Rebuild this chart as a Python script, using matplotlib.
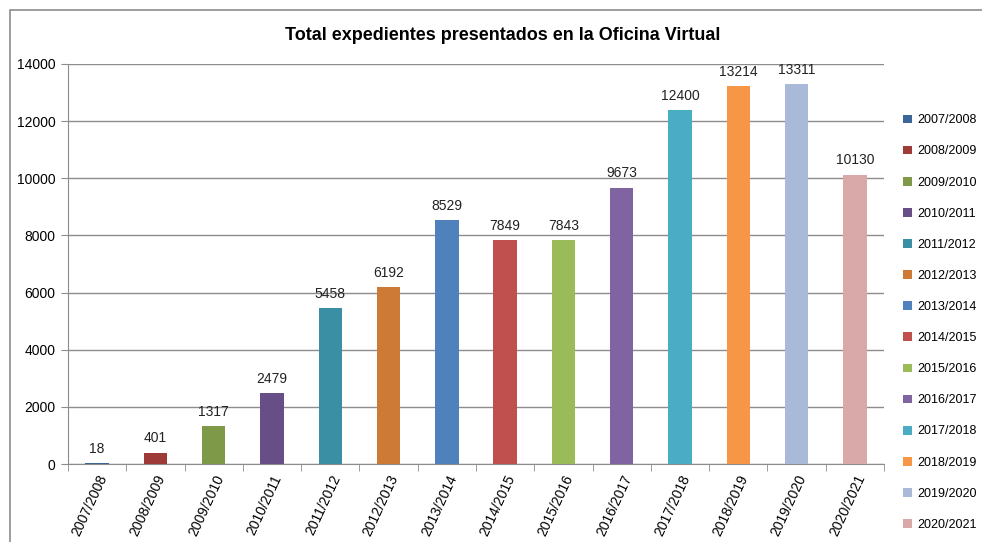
import numpy as np
import matplotlib.pyplot as plt
from matplotlib.patches import Rectangle

plt.rcParams['font.family'] = ['Liberation Sans', 'DejaVu Sans']

cursos = ['2007/2008', '2008/2009', '2009/2010', '2010/2011', '2011/2012', '2012/2013',
          '2013/2014', '2014/2015', '2015/2016', '2016/2017', '2017/2018', '2018/2019',
          '2019/2020', '2020/2021']
expedientes = [18, 401, 1317, 2479, 5458, 6192, 8529, 7849, 7843, 9673, 12400, 13214, 13311, 10130]
colores = ['#3C6696', '#9E3B38', '#7E9A48', '#674E87', '#3B8FA5', '#CC7A36',
           '#4F81BD', '#C0504D', '#9BBB59', '#8064A2', '#4BACC6', '#F79646',
           '#A9B9D8', '#D9A8A8']

fig = plt.figure(figsize=(9.82, 5.42), dpi=100)
# marco gris del grafico
fig.patches.append(Rectangle((10 / 982, -0.05), 1.0, 1 - 10 / 542 + 0.05,
                             transform=fig.transFigure, fill=False,
                             edgecolor='#8C8C8C', linewidth=1.2))

ax = fig.add_axes([68 / 982, 1 - 464 / 542, (884 - 68) / 982, 400 / 542])
x = np.arange(len(cursos))
bars = ax.bar(x, expedientes, width=0.4, color=colores, label=cursos, zorder=3)

for xi, v in zip(x, expedientes):
    ax.text(xi, v + 250, str(v), ha='center', va='bottom', fontsize=10, color='#222222')

ax.set_xlim(-0.5, len(cursos) - 0.5)
ax.set_ylim(0, 14000)
ax.set_yticks(range(0, 14001, 2000))
ax.yaxis.grid(True, color='#8C8C8C', linewidth=1)
ax.set_axisbelow(True)

ax.set_xticks(x)
ax.set_xticklabels(cursos, rotation=65, ha='right', rotation_mode='anchor', fontsize=10)
ax.set_xticks(np.arange(-0.5, len(cursos), 1), minor=True)
ax.tick_params(axis='x', which='major', length=0, pad=6)
ax.tick_params(axis='x', which='minor', length=5, color='#8C8C8C', direction='out')
ax.tick_params(axis='y', length=5, color='#8C8C8C', labelsize=10, pad=4)

for s in ['top', 'right']:
    ax.spines[s].set_visible(False)
for s in ['left', 'bottom']:
    ax.spines[s].set_color('#8C8C8C')

fig.text(503 / 982, 1 - 35 / 542, 'Total expedientes presentados en la Oficina Virtual',
         ha='center', va='center', fontsize=13, fontweight='bold')

leg = fig.legend(handles=bars, labels=cursos, loc='upper left',
                 bbox_to_anchor=(892 / 982, 1 - 103 / 542), frameon=False,
                 fontsize=9, handlelength=0.7, handleheight=0.7,
                 handletextpad=0.4, labelspacing=1.53)

fig.savefig('out.png', dpi=100)
